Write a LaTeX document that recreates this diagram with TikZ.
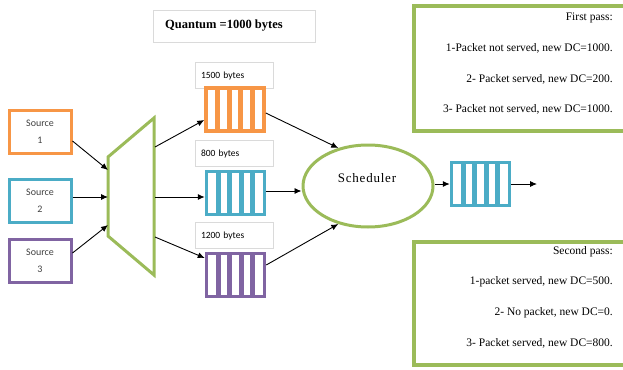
\documentclass[tikz,border=0pt]{standalone}
\usepackage{fontspec}
\setmainfont{Liberation Serif}
\newfontfamily\calibri{Carlito}
\usetikzlibrary{arrows.meta,shapes.geometric,calc}

\definecolor{qorange}{HTML}{F79646}
\definecolor{qteal}{HTML}{4BACC6}
\definecolor{qpurple}{HTML}{8064A2}
\definecolor{qgreen}{HTML}{9BBB59}
\definecolor{lblgray}{HTML}{DADADA}
\definecolor{srctext}{HTML}{404040}

\tikzset{
  arr/.style={-{Latex[length=7pt,width=6pt]}, line width=0.9pt, black},
  srcbox/.style={draw=#1, line width=3pt, minimum width=62pt, minimum height=43pt,
    align=center, font=\calibri\fontsize{10}{17}\selectfont, text=srctext, inner sep=0pt},
  queue/.style={draw=#1, line width=3.5pt, minimum width=58pt, minimum height=43pt, inner sep=0pt,
    path picture={
      \foreach \i in {1,...,4}
        \draw[#1, line width=5pt]
          ($(path picture bounding box.south west)!\i/5!(path picture bounding box.south east)$) --
          ($(path picture bounding box.north west)!\i/5!(path picture bounding box.north east)$);
    }},
  lblbox/.style={draw=lblgray, line width=0.8pt, minimum width=78pt, minimum height=26pt,
    text width=66pt, align=left, inner sep=0pt, font=\calibri\fontsize{9.5}{11}\selectfont},
  passbox/.style={draw=qgreen, line width=4pt},
  passtext/.style={anchor=east, inner sep=0pt, font=\fontsize{11.5}{13}\selectfont},
}

\begin{document}
\begin{tikzpicture}[x=1pt,y=-1pt]
  \useasboundingbox (0,0) rectangle (623,369);
  \clip (0,0) rectangle (623,369);

  % heading
  \node[draw=lblgray, line width=0.8pt, minimum width=162pt, minimum height=32pt] (quant) at (234,26) {};
  \node[anchor=west, inner sep=0pt, font=\bfseries\fontsize{12.5}{14}\selectfont] (quanttext) at (165,26) {Quantum =1000 bytes};

  % sources
  \node[srcbox=qorange] (s1) at (40,131.5) {Source\\1};
  \node[srcbox=qteal]   (s2) at (40,201)   {Source\\2};
  \node[srcbox=qpurple] (s3) at (40,261)   {Source\\3};

  % multiplexer
  \coordinate (mtl) at (108,157);
  \coordinate (mtr) at (154,118);
  \coordinate (mbr) at (154,275);
  \coordinate (mbl) at (108,236);
  \draw[qgreen, line width=3pt, line join=miter] (mtl) -- (mtr) -- (mbr) -- (mbl) -- cycle;
  \coordinate (min1) at (108,170);
  \coordinate (min2) at (108,197);
  \coordinate (min3) at (108,225);
  \coordinate (mout1) at (155,147);
  \coordinate (mout2) at (155,197);
  \coordinate (mout3) at (155,237);

  % per-flow queues and their packet sizes
  \node[lblbox] (l1) at (234,75.5) {1500 bytes};
  \node[lblbox] (l2) at (234,153.5) {800 bytes};
  \node[lblbox] (l3) at (234,235.5) {1200 bytes};
  \node[queue=qorange] (q1) at (235,109.5) {};
  \node[queue=qteal]   (q2) at (235.5,193) {};
  \node[queue=qpurple] (q3) at (235.5,275) {};

  % scheduler and output queue
  \node[draw=qgreen, line width=3pt, ellipse, minimum width=130pt, minimum height=82pt, inner sep=0pt] (sched) at (368,186) {};
  \node[font=\addfontfeatures{LetterSpace=6}\fontsize{13}{15}\selectfont, inner sep=0pt] (schedtext) at (367,178) {Scheduler};
  \node[queue=qteal] (qo) at (480.5,184) {};
  \coordinate (out) at (537,184);

  % connectors
  \draw[arr] ([yshift=-9.5pt]s1.east) -- (min1);
  \draw[arr] ([yshift=4pt]s2.east) -- (min2);
  \draw[arr] ([yshift=8pt]s3.east) -- (min3);
  \draw[arr] (mout1) -- ([yshift=-10.5pt]q1.west);
  \draw[arr] (mout2) -- ([yshift=-4pt]q2.west);
  \draw[arr] (mout3) -- ([yshift=17pt]q3.west);
  \draw[arr] ([yshift=-3.5pt]q1.east) -- (sched.128);
  \draw[arr] ([yshift=2pt]q2.east) -- (sched.west |- 0,191);
  \draw[arr] ([yshift=10pt]q3.east) -- (sched.232);
  \draw[arr] (sched.east |- 0,184) -- (qo.west);
  \draw[arr] (qo.east) -- (out);

  % first pass
  \node[passbox, minimum width=240pt, minimum height=125pt, anchor=north west] (pass1) at (412,4) {};
  \node[passtext] (p1a) at (613,18) {First pass:};
  \node[passtext] (p1b) at (613,48) {1-Packet not served, new DC=1000.};
  \node[passtext] (p1c) at (613,79) {2- Packet served, new DC=200.};
  \node[passtext] (p1d) at (613,109) {3- Packet not served, new DC=1000.};

  % second pass
  \node[passbox, minimum width=240pt, minimum height=123pt, anchor=north west] (pass2) at (412,240) {};
  \node[passtext] (p2a) at (613,252) {Second pass:};
  \node[passtext] (p2b) at (613,282) {1-packet served, new DC=500.};
  \node[passtext] (p2c) at (613,313) {2- No packet, new DC=0.};
  \node[passtext] (p2d) at (613,343) {3- Packet served, new DC=800.};
\end{tikzpicture}
\end{document}
